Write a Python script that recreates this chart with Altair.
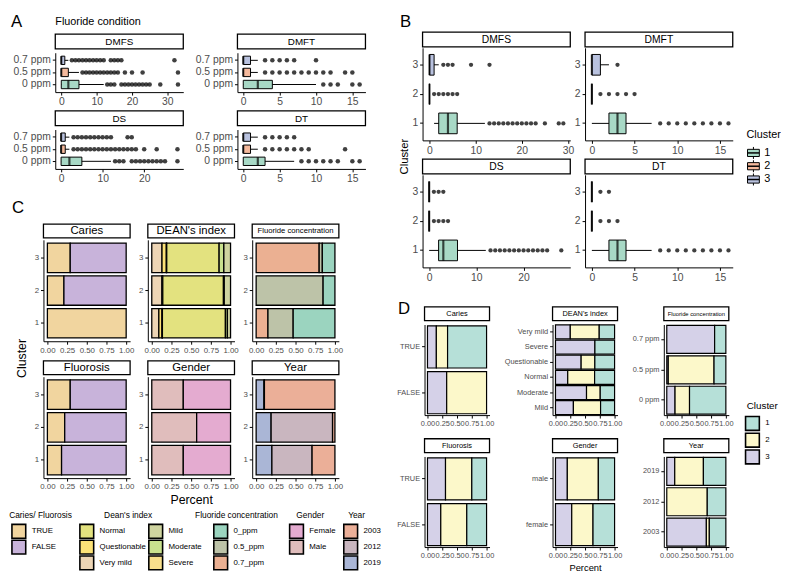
import altair as alt
import pandas as pd

FONT = "Liberation Sans"
LABC = "#4d4d4d"

# ---------------- Panel A: scores by fluoride condition ----------------
A_groups = ["0 ppm", "0.5 ppm", "0.7 ppm"]
A_colors = ["#a8d9c6", "#f5b99c", "#b9c2df"]
# box = [lower whisker, q1, median, q3, upper whisker] per group
A_DMFS_box = [[0, 0, 2, 5, 12], [0, 0, 0, 2, 5], [0, 0, 0, 1, 2]]
A_DMFS_out = [[13, 14, 15, 17, 18, 19, 20, 21, 22, 23, 24, 25, 28, 33],
              [6, 7, 8, 9, 10, 11, 12, 13, 14, 15, 16, 18, 20, 23, 33],
              [3, 4, 5, 6, 7, 8, 9, 10, 11, 12, 14, 15, 16, 17, 32]]
A_DMFT_box = [[0, 0, 2, 4, 10], [0, 0, 0, 1, 2], [0, 0, 0, 1, 2]]
A_DMFT_out = [[11, 12, 13, 15, 16],
              [3, 4, 5, 6, 7, 8, 9, 10, 11, 12, 14, 15],
              [3, 4, 5, 6, 7, 10]]
A_DS_box = [[0, 0, 2, 5, 12], [0, 0, 0, 1, 2], [0, 0, 0, 1, 2]]
A_DS_out = [[13, 14, 15, 17, 18, 19, 20, 21, 22, 23, 24, 25, 28],
            [3, 4, 5, 6, 7, 8, 9, 10, 11, 12, 13, 14, 15, 16, 17, 18, 20, 23, 28],
            [3, 4, 5, 6, 7, 8, 9, 10, 11, 12, 16, 17]]
A_DT_box = [[0, 0, 2, 3, 7], [0, 0, 0, 1, 2], [0, 0, 0, 1, 2]]
A_DT_out = [[8, 9, 10, 11, 12, 13, 15, 16],
            [3, 4, 5, 6, 7, 8, 9, 14],
            [3, 4, 5, 6, 7]]

# ---------------- Panel B: scores by cluster ----------------
B_groups = ["1", "2", "3"]
B_colors = ["#a8d9c6", "#f5b99c", "#b9c2df"]
B_DMFS_box = [[1, 2, 4, 6, 12], [0, 0, 0, 0, 0], [0, 0, 0, 1, 2]]
B_DMFS_out = [[13, 14, 15, 16, 17, 18, 19, 20, 21, 22, 23, 25, 28, 29],
              [1, 2, 3, 4, 5, 6],
              [3, 4, 5, 9, 13]]
B_DMFT_box = [[0, 2, 3, 4, 7], [0, 0, 0, 0, 0], [0, 0, 0, 1, 2]]
B_DMFT_out = [[8, 9, 10, 11, 12, 13, 14, 15, 16], [1, 2, 3, 4, 5], [3]]
B_DS_box = [[0, 2, 3, 6, 12], [0, 0, 0, 0, 0], [0, 0, 0, 0, 0]]
B_DS_out = [[13, 14, 15, 16, 17, 18, 19, 20, 21, 22, 23, 24, 25, 28], [1, 2, 3, 4], [1, 2, 3]]
B_DT_box = [[0, 2, 3, 4, 7], [0, 0, 0, 0, 0], [0, 0, 0, 0, 0]]
B_DT_out = [[8, 9, 10, 11, 12, 13, 14, 15, 16], [1, 2, 3], [1, 2]]

# ---------------- Panel C: composition of each cluster ----------------
C_clusters = ["1", "2", "3"]
C_caries = {"TRUE": [1.00, 0.21, 0.29], "FALSE": [0.00, 0.79, 0.71]}
C_fluorosis = {"TRUE": [0.18, 0.22, 0.29], "FALSE": [0.82, 0.78, 0.71]}
C_tf_colors = ["#f1d59f", "#c8b3da"]
C_dean_keys = ["Very mild", "Questionable", "Severe", "Normal", "Moderate", "Mild"]
C_dean = {"Very mild": [0.09, 0.13, 0.13], "Questionable": [0.04, 0.005, 0.055],
          "Severe": [0.005, 0.005, 0.005], "Normal": [0.80, 0.77, 0.665],
          "Moderate": [0.025, 0.01, 0.06], "Mild": [0.04, 0.08, 0.085]}
C_dean_colors = ["#edd5b5", "#fce277", "#f8df8c", "#e3e27f", "#c9e18e", "#cfd4a0"]
C_fluor_keys = ["0.7_ppm", "0.5_ppm", "0_ppm"]
C_fluor = {"0.7_ppm": [0.15, 0.00, 0.80], "0.5_ppm": [0.32, 0.85, 0.04], "0_ppm": [0.53, 0.15, 0.16]}
C_fluor_colors = ["#ebb092", "#bdc3a8", "#9bd4bf"]
C_gender_keys = ["Male", "Female"]
C_gender = {"Male": [0.40, 0.57, 0.40], "Female": [0.60, 0.43, 0.60]}
C_gender_colors = ["#e0bdbc", "#e4abd0"]
C_year_keys = ["2019", "2012", "2003"]
C_year = {"2019": [0.20, 0.19, 0.10], "2012": [0.51, 0.78, 0.005], "2003": [0.29, 0.03, 0.895]}
C_year_colors = ["#aab6d6", "#c9b6bf", "#ebaf98"]

# ---------------- Panel D: cluster share within each category ----------------
D_keys = ["3", "2", "1"]
D_colors = ["#d5d1e8", "#fcf8ca", "#b6e0d8"]
D_caries_cats = ["TRUE", "FALSE"]
D_caries = {"3": [0.15, 0.325], "2": [0.19, 0.675], "1": [0.66, 0.0]}
D_dean_cats = ["Very mild", "Severe", "Questionable", "Normal", "Moderate", "Mild"]
D_dean = {"3": [0.25, 0.667, 0.434, 0.207, 0.525, 0.303],
          "2": [0.49, 0.0, 0.232, 0.455, 0.232, 0.46],
          "1": [0.26, 0.333, 0.334, 0.338, 0.243, 0.237]}
D_fluor_cats = ["0.7 ppm", "0.5 ppm", "0 ppm"]
D_fluor = {"3": [0.81, 0.025, 0.14], "2": [0.0, 0.775, 0.245], "1": [0.19, 0.2, 0.615]}
D_fluorosis_cats = ["TRUE", "FALSE"]
D_fluorosis = {"3": [0.305, 0.225], "2": [0.445, 0.44], "1": [0.25, 0.335]}
D_gender_cats = ["male", "female"]
D_gender = {"3": [0.2, 0.275], "2": [0.525, 0.36], "1": [0.275, 0.365]}
D_year_cats = ["2019", "2012", "2003"]
D_year = {"3": [0.135, 0.0, 0.67], "2": [0.485, 0.685, 0.05], "1": [0.38, 0.315, 0.28]}

ONE = pd.DataFrame({"d": [0]})
IND = dict(x="independent", y="independent", fill="independent")


def txt(s, x, y, fs, align="center", angle=0, color="black"):
    return alt.Chart(ONE).mark_text(text=s, fontSize=fs, font=FONT, align=align,
                                    baseline="middle", angle=angle, color=color).encode(
        x=alt.value(x), y=alt.value(y))


def spacer(W=1, H=1):
    return alt.Chart(ONE).mark_rect(opacity=0).encode(
        x=alt.value(0), x2=alt.value(W), y=alt.value(0), y2=alt.value(H)).properties(width=W, height=H)


def strip(W, label, fs, top, h):
    r = alt.Chart(ONE).mark_rect(fill="white", stroke="black", strokeWidth=1.3).encode(
        x=alt.value(0), x2=alt.value(W), y=alt.value(top), y2=alt.value(top + h))
    return [r, txt(label, W / 2, top + h / 2 + 0.5, fs)]


def axis(fs, values=None, fmt=None, title=None, tfs=12):
    kw = dict(labelFontSize=fs, labelFont=FONT, labelColor=LABC, domainColor="black",
              tickColor="black", tickSize=3, labelPadding=2, grid=False, title=title,
              titleFont=FONT, titleFontSize=tfs, titleFontWeight="normal", titleColor="black",
              titlePadding=3)
    if values is not None:
        kw["values"] = values
    if fmt is not None:
        kw["format"] = fmt
    return alt.Axis(**kw)


def box_chart(cats, box, outs, colors, W, H, boxh, pt, xdom, xticks, label, fs_strip, fs_lab,
              strip_top, strip_h, pad_outer, extra=()):
    dfb = pd.DataFrame({"cat": cats, "lo": [b[0] for b in box], "q1": [b[1] for b in box],
                        "med": [b[2] for b in box], "q3": [b[3] for b in box],
                        "hi": [b[4] for b in box]})
    dfo = pd.DataFrame({"cat": [c for c, o in zip(cats, outs) for _ in o],
                        "v": [v for o in outs for v in o]})
    order = list(reversed(cats))
    y = alt.Y("cat:N", title=None,
              scale=alt.Scale(domain=order, paddingInner=0, paddingOuter=pad_outer),
              axis=axis(fs_lab))
    xs = alt.Scale(domain=xdom, nice=False, zero=False)
    xa = axis(fs_lab, values=xticks)
    whisk = alt.Chart(dfb).mark_rule(color="black", strokeWidth=1).encode(
        x=alt.X("lo:Q", scale=xs, axis=xa), x2="hi:Q", y=y)
    boxes = alt.Chart(dfb).mark_bar(size=boxh, stroke="black", strokeWidth=1).encode(
        x=alt.X("q1:Q", scale=xs, axis=xa), x2="q3:Q", y=y,
        fill=alt.Fill("cat:N", scale=alt.Scale(domain=cats, range=colors), legend=None))
    med = alt.Chart(dfb).mark_tick(color="black", thickness=2.2, size=boxh).encode(
        x=alt.X("med:Q", scale=xs, axis=xa), y=y)
    pts = alt.Chart(dfo).mark_circle(size=pt, color="black", opacity=0.75).encode(
        x=alt.X("v:Q", scale=xs, axis=xa), y=y)
    layers = [whisk, boxes, med, pts] + strip(W, label, fs_strip, strip_top, strip_h) + list(extra)
    return alt.layer(*layers).properties(width=W, height=H)


def stack_chart(cats_data, cats_top, keys, table, colors, W, H, label, fs_strip, fs_lab,
                strip_top, strip_h, pin, pout, sw=1.3, xtitle=None, tfs=12, extra=()):
    rows = []
    for o, k in enumerate(keys):
        for c, v in zip(cats_data, table[k]):
            if v > 0:
                rows.append({"cat": c, "key": k, "v": v, "o": o})
    df = pd.DataFrame(rows)
    y = alt.Y("cat:N", title=None,
              scale=alt.Scale(domain=cats_top, paddingInner=pin, paddingOuter=pout),
              axis=axis(fs_lab))
    x = alt.X("v:Q", stack="zero", scale=alt.Scale(domain=[-0.05, 1.05], nice=False, zero=False),
              axis=axis(fs_lab, values=[0, 0.25, 0.5, 0.75, 1], fmt=".2f", title=xtitle, tfs=tfs))
    bars = alt.Chart(df).mark_bar(stroke="black", strokeWidth=sw).encode(
        x=x, y=y, fill=alt.Fill("key:N", scale=alt.Scale(domain=keys, range=colors), legend=None),
        order=alt.Order("o:Q"))
    layers = [bars] + strip(W, label, fs_strip, strip_top, strip_h) + list(extra)
    return alt.layer(*layers).properties(width=W, height=H)


def legend_layers(title, labels, colors, kx, tx, tcx, y0, step, key, fs, tfs, n=3):
    df = pd.DataFrame({"label": labels, "color": colors,
                       "c": [i + 0.5 for i in range(len(labels))]})
    y = alt.Y("c:Q", scale=alt.Scale(domain=[0, n], range=[y0, y0 + n * step]), axis=None)
    sq = alt.Chart(df).mark_square(size=key * key, stroke="black", strokeWidth=1.6, opacity=1).encode(
        x=alt.value(kx + key / 2), y=y, fill=alt.Fill("color:N", scale=None))
    tx_l = alt.Chart(df).mark_text(align="left", baseline="middle", fontSize=fs, font=FONT,
                                   color="black").encode(x=alt.value(tx), y=y, text="label:N")
    layers = [sq, tx_l]
    if title:
        layers.append(txt(title, tcx, y0 - 9, tfs))
    return layers


# ---------------- panel A ----------------
AW, AH = 130, 40
a_kw = dict(W=AW, H=AH, boxh=8.5, pt=21, fs_strip=10, fs_lab=10.5, strip_top=-19, strip_h=15,
            pad_outer=0.13)
A1 = box_chart(A_groups, A_DMFS_box, A_DMFS_out, A_colors, xdom=[-1.7, 34.5], xticks=[0, 10, 20, 30],
               label="DMFS", extra=[txt("A", -45, -31, 17, align="left"),
                                    txt("Fluoride condition", 0, -31, 11, align="left")], **a_kw)
A2 = box_chart(A_groups, A_DMFT_box, A_DMFT_out, A_colors, xdom=[-0.8, 16.8], xticks=[0, 5, 10, 15],
               label="DMFT", **a_kw)
A3 = box_chart(A_groups, A_DS_box, A_DS_out, A_colors, xdom=[-1.4, 29.4], xticks=[0, 10, 20],
               label="DS", **a_kw)
A4 = box_chart(A_groups, A_DT_box, A_DT_out, A_colors, xdom=[-0.8, 16.8], xticks=[0, 5, 10, 15],
               label="DT", **a_kw)
Agrid = alt.concat(A1, A2, A3, A4, columns=2, align="each",
                   spacing={"row": 2, "column": 11}).resolve_scale(**IND)
panelA = alt.hconcat(spacer(), Agrid, spacing=1).resolve_scale(**IND)

# ---------------- panel B ----------------
BW, BH = 150, 94
b_kw = dict(W=BW, H=BH, boxh=21, pt=19, fs_strip=10.5, fs_lab=10.5, strip_top=-16, strip_h=15,
            pad_outer=0.08)
B1 = box_chart(B_groups, B_DMFS_box, B_DMFS_out, B_colors, xdom=[-1.5, 30.5], xticks=[0, 10, 20, 30],
               label="DMFS", **b_kw)
B2 = box_chart(B_groups, B_DMFT_box, B_DMFT_out, B_colors, xdom=[-0.8, 16.5], xticks=[0, 5, 10, 15],
               label="DMFT", **b_kw)
B3 = box_chart(B_groups, B_DS_box, B_DS_out, B_colors, xdom=[-1.4, 29.9], xticks=[0, 10, 20],
               label="DS", **b_kw)
B4 = box_chart(B_groups, B_DT_box, B_DT_out, B_colors, xdom=[-0.8, 16.5], xticks=[0, 5, 10, 15],
               label="DT", **b_kw)
Bgrid = alt.concat(B1, B2, B3, B4, columns=2, align="each",
                   spacing={"row": 2, "column": 0}).resolve_scale(**IND)
labelB = alt.layer(spacer(16, 1), txt("B", 5, -26, 17, align="left"),
                   txt("Cluster", 10, BH + 16.5, 11.5, angle=270)).properties(width=16, height=1)

lg = pd.DataFrame({"label": B_groups, "color": B_colors, "c": [0.5, 1.5, 2.5]})
lg["lo"] = lg["c"] - 0.45
lg["hi"] = lg["c"] + 0.45
lg["b0"] = lg["c"] - 0.27
lg["b1"] = lg["c"] + 0.27
ly0, lstep = 100, 13.5
lys = alt.Scale(domain=[0, 3], range=[ly0, ly0 + 3 * lstep])
B_leg = alt.layer(
    alt.Chart(lg).mark_rule(color="black", strokeWidth=1).encode(
        x=alt.value(20), y=alt.Y("lo:Q", scale=lys, axis=None), y2="hi:Q"),
    alt.Chart(lg).mark_rect(stroke="black", strokeWidth=1).encode(
        x=alt.value(14), x2=alt.value(26), y=alt.Y("b0:Q", scale=lys, axis=None), y2="b1:Q",
        fill=alt.Fill("color:N", scale=None)),
    alt.Chart(lg).mark_rule(color="black", strokeWidth=1.5).encode(
        x=alt.value(14), x2=alt.value(26), y=alt.Y("c:Q", scale=lys, axis=None)),
    alt.Chart(lg).mark_text(align="left", baseline="middle", fontSize=11, font=FONT).encode(
        x=alt.value(31), y=alt.Y("c:Q", scale=lys, axis=None), text="label:N"),
    txt("Cluster", 13, ly0 - 11, 11, align="left"),
).properties(width=46, height=2 * BH)

panelB = alt.hconcat(labelB, Bgrid, B_leg, spacing=0).resolve_scale(**IND)

# ---------------- panel C ----------------
CW, CH = 88, 103
c_kw = dict(W=CW, H=CH, fs_lab=8, strip_top=-16, strip_h=14, pin=0.1, pout=0.1)
C_top = ["3", "2", "1"]
C1 = stack_chart(C_clusters, C_top, ["TRUE", "FALSE"], C_caries, C_tf_colors, label="Caries",
                 fs_strip=11.5, **c_kw)
C2 = stack_chart(C_clusters, C_top, C_dean_keys, C_dean, C_dean_colors, label="DEAN's index",
                 fs_strip=11.5, **c_kw)
C3 = stack_chart(C_clusters, C_top, C_fluor_keys, C_fluor, C_fluor_colors,
                 label="Fluoride concentration", fs_strip=7.8, **c_kw)
C4 = stack_chart(C_clusters, C_top, ["TRUE", "FALSE"], C_fluorosis, C_tf_colors, label="Fluorosis",
                 fs_strip=11.5, **c_kw)
C5 = stack_chart(C_clusters, C_top, C_gender_keys, C_gender, C_gender_colors, label="Gender",
                 fs_strip=11.5, xtitle="Percent", tfs=12.5, **c_kw)
C6 = stack_chart(C_clusters, C_top, C_year_keys, C_year, C_year_colors, label="Year",
                 fs_strip=11.5, **c_kw)
Cgrid = alt.concat(C1, C2, C3, C4, C5, C6, columns=3, align="each",
                   spacing={"row": 6, "column": 4}).resolve_scale(**IND)
labelC = alt.layer(spacer(19, 1), txt("C", 3, -32, 17, align="left"),
                   txt("Cluster", 13, CH + 17.5, 12.5, angle=270)).properties(width=19, height=1)
panelC = alt.hconcat(labelC, Cgrid, spacing=5).resolve_scale(**IND)

lyc = 17
C_leg = alt.layer(
    *legend_layers("Caries/ Fluorosis", ["TRUE", "FALSE"], C_tf_colors, 3, 23, 32, lyc, 16, 14, 8, 8.5),
    *legend_layers("Dean's index", ["Normal", "Questionable", "Very mild"],
                   ["#e3e27f", "#fce277", "#edd5b5"], 72, 92, 121, lyc, 16, 14, 8, 8.5),
    *legend_layers(None, ["Mild", "Moderate", "Severe"],
                   ["#cfd4a0", "#c9e18e", "#f8df8c"], 142, 162, 0, lyc, 16, 14, 8, 8.5),
    *legend_layers("Fluoride concentration", ["0_ppm", "0.5_ppm", "0.7_ppm"],
                   ["#9bd4bf", "#bdc3a8", "#ebb092"], 208, 228, 231, lyc, 16, 14, 8, 8.5),
    *legend_layers("Gender", ["Female", "Male"], ["#e4abd0", "#e0bdbc"], 285, 305, 306, lyc, 16, 14, 8, 8.5),
    *legend_layers("Year", ["2003", "2012", "2019"], ["#ebaf98", "#c9b6bf", "#aab6d6"],
                   340, 360, 353, lyc, 16, 14, 8, 8.5),
).properties(width=360, height=lyc + 48)

# ---------------- panel D ----------------
DW, DH = 66, 92
d_kw = dict(W=DW, H=DH, fs_lab=7.5, fs_strip=7.5, strip_top=-18, strip_h=14, pin=0.08, pout=0.03,
            sw=1.2)
D1 = stack_chart(D_caries_cats, D_caries_cats, D_keys, D_caries, D_colors, label="Caries",
                 extra=[txt("D", -27, -16, 17, align="left")], **d_kw)
D2 = stack_chart(D_dean_cats, D_dean_cats, D_keys, D_dean, D_colors, label="DEAN's index", **d_kw)
D3 = stack_chart(D_fluor_cats, D_fluor_cats, D_keys, D_fluor, D_colors,
                 label="Fluoride concentration", **dict(d_kw, fs_strip=5.9))
D4 = stack_chart(D_fluorosis_cats, D_fluorosis_cats, D_keys, D_fluorosis, D_colors, label="Fluorosis",
                 **d_kw)
D5 = stack_chart(D_gender_cats, D_gender_cats, D_keys, D_gender, D_colors, label="Gender",
                 xtitle="Percent", tfs=9.5, **d_kw)
D6 = stack_chart(D_year_cats, D_year_cats, D_keys, D_year, D_colors, label="Year", **d_kw)
Dgrid = alt.concat(D1, D2, D3, D4, D5, D6, columns=3, align="each",
                   spacing={"row": 10, "column": 9}).resolve_scale(**IND)

D_leg = alt.layer(
    *legend_layers("Cluster", ["1", "2", "3"], ["#b6e0d8", "#fcf8ca", "#d5d1e8"],
                   12, 32, 29, 92, 17, 14, 8, 10),
).properties(width=46, height=150)

panelD = alt.hconcat(spacer(), Dgrid, D_leg, spacing=0).resolve_scale(**IND)

# ---------------- assemble ----------------
left = alt.vconcat(
    spacer(),
    alt.vconcat(panelA,
                alt.vconcat(panelC, C_leg, spacing=0).resolve_scale(**IND),
                spacing=15).resolve_scale(**IND),
    spacing=0).resolve_scale(**IND)
right = alt.vconcat(
    spacer(),
    alt.vconcat(panelB, panelD, spacing=17).resolve_scale(**IND),
    spacing=0).resolve_scale(**IND)

chart = alt.hconcat(left, right, spacing=14).resolve_scale(**IND).properties(
    padding={"left": 0, "top": 0, "right": 0, "bottom": 0}
).configure(font=FONT).configure_view(stroke=None)

chart.save("out.html", embed_options={"renderer": "svg", "actions": False})
